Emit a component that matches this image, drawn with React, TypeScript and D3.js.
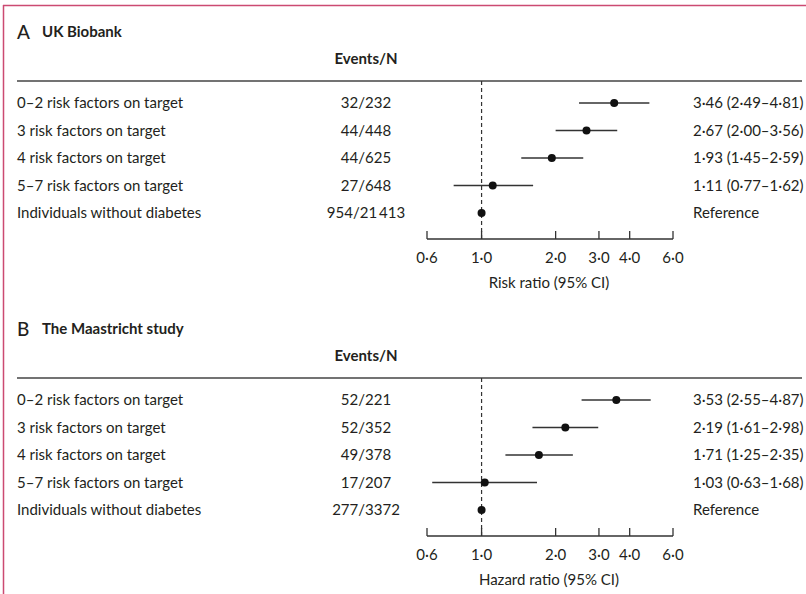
import * as d3 from "d3";

const rowLabels = [
  "0–2 risk factors on target",
  "3 risk factors on target",
  "4 risk factors on target",
  "5–7 risk factors on target",
  "Individuals without diabetes",
];

// Panel A – UK Biobank
const ukEvents = ["32/232", "44/448", "44/625", "27/648", "954/21\u2009413"];
const ukEst = [3.46, 2.67, 1.93, 1.11, 1.0];
const ukLow = [2.49, 2.0, 1.45, 0.77, null];
const ukHigh = [4.81, 3.56, 2.59, 1.62, null];
const ukText = ["3·46 (2·49–4·81)", "2·67 (2·00–3·56)", "1·93 (1·45–2·59)", "1·11 (0·77–1·62)", "Reference"];

// Panel B – The Maastricht study
const msEvents = ["52/221", "52/352", "49/378", "17/207", "277/3372"];
const msEst = [3.53, 2.19, 1.71, 1.03, 1.0];
const msLow = [2.55, 1.61, 1.25, 0.63, null];
const msHigh = [4.87, 2.98, 2.35, 1.68, null];
const msText = ["3·53 (2·55–4·87)", "2·19 (1·61–2·98)", "1·71 (1·25–2·35)", "1·03 (0·63–1·68)", "Reference"];

const axisTicks = [0.6, 1.0, 2.0, 3.0, 4.0, 6.0];
const tickLabels = ["0·6", "1·0", "2·0", "3·0", "4·0", "6·0"];

const font = "Lato, 'Open Sans', sans-serif";
const ink = "#231f20";

const x = d3.scaleLog().domain([0.6, 6.0]).range([427, 673]);
const y = d3.scalePoint<string>().domain(rowLabels).range([103, 213]);

type PanelProps = {
  top: number;
  letter: string;
  title: string;
  events: string[];
  est: number[];
  low: (number | null)[];
  high: (number | null)[];
  text: string[];
  axisLabel: string;
};

const Panel = ({ top, letter, title, events, est, low, high, text, axisLabel }: PanelProps) => {
  const axisY = 239;
  return (
    <g transform={`translate(0,${top})`} fontFamily={font} fill={ink}>
      <text x={17} y={32} dy="0.35em" fontSize={19} fontWeight={500}>{letter}</text>
      <text x={42} y={32} dy="0.35em" fontSize={15} fontWeight="bold">{title}</text>
      <text x={366} y={59} dy="0.35em" fontSize={15} fontWeight="bold" textAnchor="middle">Events/N</text>
      <line x1={17} x2={802} y1={81} y2={81} stroke="#444" strokeWidth={1.3} />

      <line x1={x(1)} x2={x(1)} y1={81} y2={axisY} stroke="#333" strokeWidth={1.2} strokeDasharray="4,3" />

      {rowLabels.map((lab, i) => (
        <g key={lab}>
          <text x={17} y={y(lab)} dy="0.35em" fontSize={15}>{lab}</text>
          <text x={366} y={y(lab)} dy="0.35em" fontSize={15} textAnchor="middle">{events[i]}</text>
          <text x={693} y={y(lab)} dy="0.35em" fontSize={15}>{text[i]}</text>
          {low[i] != null && (
            <line x1={x(low[i] as number)} x2={x(high[i] as number)} y1={y(lab)} y2={y(lab)} stroke="#333" strokeWidth={1.3} />
          )}
          <circle cx={x(est[i])} cy={y(lab)} r={4} fill="#111" />
        </g>
      ))}

      <line x1={x(0.6)} x2={x(6.0)} y1={axisY} y2={axisY} stroke="#333" strokeWidth={1.3} />
      {axisTicks.map((t, i) => (
        <g key={t}>
          <line x1={x(t)} x2={x(t)} y1={axisY - 8} y2={axisY} stroke="#333" strokeWidth={1.3} />
          <text x={x(t)} y={axisY + 19} dy="0.35em" fontSize={15} textAnchor="middle">{tickLabels[i]}</text>
        </g>
      ))}
      <text x={549} y={axisY + 44} dy="0.35em" fontSize={15} textAnchor="middle">{axisLabel}</text>
    </g>
  );
};

export default function App() {
  return (
    <svg width={806} height={594} style={{ position: "absolute", left: 0, top: 0, background: "#fff" }}>
      <rect width={806} height={594} fill="#fff" />
      <line x1={3} x2={806} y1={5.5} y2={5.5} stroke="#cc4a72" strokeWidth={1.5} />
      <line x1={3.5} x2={3.5} y1={5} y2={594} stroke="#cc4a72" strokeWidth={1.5} />
      <Panel top={0} letter="A" title="UK Biobank" events={ukEvents} est={ukEst} low={ukLow} high={ukHigh} text={ukText} axisLabel="Risk ratio (95% CI)" />
      <Panel top={297} letter="B" title="The Maastricht study" events={msEvents} est={msEst} low={msLow} high={msHigh} text={msText} axisLabel="Hazard ratio (95% CI)" />
    </svg>
  );
}
